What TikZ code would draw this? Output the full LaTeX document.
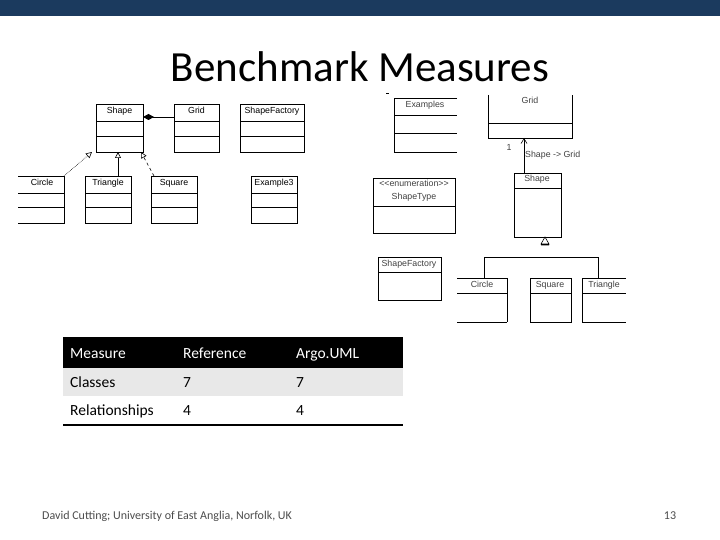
\documentclass[tikz,border=0pt]{standalone}
\usepackage{fontspec}
\setmainfont{Carlito}
\newfontfamily\umlf{Liberation Sans}
\usetikzlibrary{arrows.meta}
\definecolor{topbar}{HTML}{1B3A5E}
\definecolor{rowgray}{HTML}{E8E8E8}
\begin{document}
\begin{tikzpicture}[x=1pt,y=-1pt,
  box/.style={draw=black,line width=0.8pt},
  ut/.style={font=\umlf\fontsize{8.8}{9}\selectfont,inner sep=0pt,anchor=base},
  rt/.style={font=\umlf\fontsize{8.8}{9}\selectfont,inner sep=0pt,text=black!75,anchor=base},
  tt/.style={font=\fontsize{15.5}{17}\selectfont,anchor=base west,inner sep=0pt},
  inh/.style={-{Triangle[open,length=6pt,width=6pt]},line width=0.6pt},
  ]
\useasboundingbox (0,0) rectangle (720,540);
\fill[topbar] (0,0) rectangle (720,16);
\node[font=\fontsize{43}{46}\selectfont,anchor=base,inner sep=0pt] (title) at (360,82) {Benchmark Measures};
% left UML
\draw[box] (96,104) rectangle (143,152); \draw[box] (96,121)--(143,121) (96,136)--(143,136);
\node[ut] (shape) at (119.5,114) {Shape};
\coordinate (shR) at (143,117); \coordinate (shB1) at (92,152); \coordinate (shB2) at (118,152); \coordinate (shB3) at (141,152);
\draw[box] (174,104) rectangle (219,152); \draw[box] (174,121)--(219,121) (174,136)--(219,136);
\node[ut] (grid) at (196.5,114) {Grid};
\coordinate (grL) at (174,117);
\draw[box] (240,104) rectangle (304,152); \draw[box] (240,121)--(304,121) (240,136)--(304,136);
\node[ut] (sf) at (272,114) {ShapeFactory};
\draw[box] (18,176)--(64,176)--(64,223)--(18,223); \draw[box] (18,193)--(64,193) (18,207)--(64,207);
\node[ut] (circle) at (42,186) {Circle};
\coordinate (ciT) at (64,176);
\draw[box] (85,176) rectangle (131,223); \draw[box] (85,193)--(131,193) (85,207)--(131,207);
\node[ut] (tri) at (108,186) {Triangle};
\coordinate (trT) at (118,176);
\draw[box] (151,176) rectangle (197,223); \draw[box] (151,193)--(197,193) (151,207)--(197,207);
\node[ut] (sq) at (174,186) {Square};
\coordinate (sqT) at (154,176);
\draw[box] (251,176) rectangle (297,223); \draw[box] (251,193)--(297,193) (251,207)--(297,207);
\node[ut] (ex3) at (274,186) {Example3};
\draw[line width=0.7pt,{Diamond[length=11pt,width=6pt]}-] (shR)--(grL);
\draw[inh,densely dotted] (ciT)--(shB1);
\draw[inh] (trT)--(shB2);
\draw[inh,dashed] (sqT)--(shB3);
% right UML
\draw[box,line width=0.6pt] (457,98)--(394,98)--(394,152)--(457,152); \draw[box,line width=0.6pt] (394,115)--(457,115) (394,133)--(457,133);
\node[rt] (examples) at (425,108) {Examples};
\draw[line width=0.6pt] (386,93)--(389,93);
\draw[box,line width=0.6pt] (488,95)--(488,138)--(572,138)--(572,95); \draw[box,line width=0.6pt] (488,123)--(572,123);
\node[rt] (grid2) at (530,104) {Grid};
\draw[box,line width=0.6pt] (514,173) rectangle (561,237); \draw[box,line width=0.6pt] (514,188)--(561,188);
\node[rt] (shape2) at (537,182) {Shape};
\draw[line width=0.6pt,-{Straight Barb[length=5pt,width=6pt]}] (524,173)--(524,138);
\node[rt] (mult) at (509,151) {1};
\node[rt,anchor=base west] (assoc) at (525,158) {Shape -> Grid};
\draw[box,line width=0.6pt] (373,178) rectangle (455,233); \draw[box,line width=0.6pt] (373,206)--(455,206);
\node[rt] (enum1) at (414,187) {<<enumeration>>};
\node[rt] (enum2) at (414,200) {ShapeType};
\draw[box,line width=0.6pt] (378,257) rectangle (441,300); \draw[box,line width=0.6pt] (378,272)--(441,272);
\node[rt] (sf2) at (409,266) {ShapeFactory};
\draw[box,line width=0.6pt] (457,278)--(507,278)--(507,322) (457,293)--(507,293); \draw[line width=0.6pt] (457,322)--(507,322);
\node[rt] (ci2) at (482,287) {Circle};
\draw[box,line width=0.6pt] (530,278) rectangle (571,322); \draw[box,line width=0.6pt] (530,293)--(571,293);
\node[rt] (sq2) at (550,287) {Square};
\draw[box,line width=0.6pt] (582,278)--(626,278) (582,278)--(582,322)--(626,322) (582,293)--(626,293);
\node[rt] (tr2) at (604,287) {Triangle};
\draw[line width=0.6pt] (484,278)--(484,257)--(598,257)--(598,278);
\draw[line width=0.6pt] (541,244)--(545,237)--(549,244)--cycle (541,245)--(549,245);
% table
\fill[black] (63,337) rectangle (403,368);
\fill[rowgray] (63,368) rectangle (403,396);
\draw[line width=1.5pt] (63,425)--(403,425);
\node[tt,text=white] (h1) at (70,358) {Measure};
\node[tt,text=white] (h2) at (183,358) {Reference};
\node[tt,text=white] (h3) at (296,358) {Argo.UML};
\node[tt] (c1) at (70,387) {Classes};
\node[tt] (c2) at (183,387) {7};
\node[tt] (c3) at (296,387) {7};
\node[tt] (r1) at (70,415) {Relationships};
\node[tt] (r2) at (183,415) {4};
\node[tt] (r3) at (296,415) {4};
% footer
\node[font=\fontsize{12}{14}\selectfont,text=black!70,anchor=base west,inner sep=0pt] (foot) at (42,519) {David Cutting; University of East Anglia, Norfolk, UK};
\node[font=\fontsize{12}{14}\selectfont,text=black!70,anchor=base,inner sep=0pt] (pg) at (670,519) {13};
\end{tikzpicture}
\end{document}
